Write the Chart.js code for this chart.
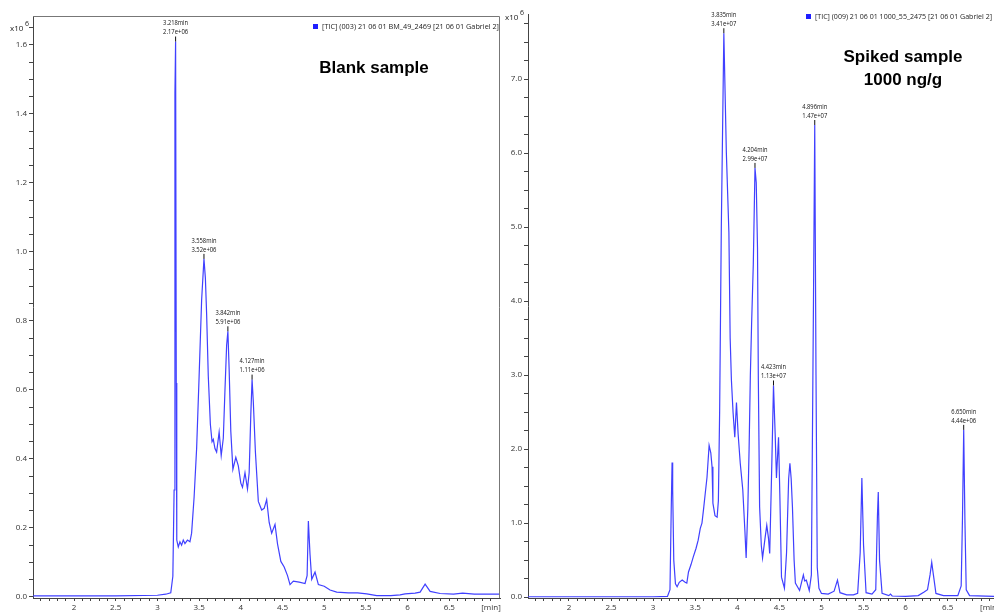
<!DOCTYPE html>
<html>
<head>
<meta charset="utf-8">
<script src="https://cdn.jsdelivr.net/npm/chart.js@4.4.0/dist/chart.umd.min.js"></script>
<style>
  html, body { margin: 0; padding: 0; background: #fff; }
  #wrap { position: relative; width: 994px; height: 615px; overflow: hidden; }
  canvas { position: absolute; top: 0; }
  #blank { left: 0; }
  #spiked { left: 503px; }
</style>
</head>
<body>
<div id="wrap">
  <canvas id="blank" width="503" height="615"></canvas>
  <canvas id="spiked" width="491" height="615"></canvas>
</div>
<script>
// retention time (min) and TIC signal
const blankTime = [1.51, 2.0, 2.5, 3.0, 3.1, 3.16, 3.185, 3.2, 3.21, 3.218, 3.226, 3.232, 3.25, 3.27, 3.29, 3.31, 3.33, 3.36, 3.39,
  3.41, 3.44, 3.47, 3.5, 3.53, 3.558, 3.575, 3.59, 3.61, 3.635, 3.655, 3.67, 3.69, 3.71, 3.74, 3.765, 3.79, 3.81, 3.83, 3.845,
  3.86, 3.88, 3.905, 3.94, 3.97, 4.0, 4.02, 4.05, 4.08, 4.1, 4.12, 4.135, 4.15, 4.175, 4.21, 4.25, 4.28, 4.31, 4.34, 4.37, 4.41,
  4.44, 4.48, 4.52, 4.56, 4.59, 4.63, 4.7, 4.77, 4.795, 4.81, 4.83, 4.85, 4.89, 4.93, 5.0, 5.07, 5.15, 5.29, 5.4, 5.51, 5.63,
  5.8, 5.91, 5.97, 6.09, 6.15, 6.21, 6.27, 6.39, 6.55, 6.66, 6.8, 7.11];
const blankSignal = [0.003, 0.003, 0.003, 0.005, 0.008, 0.012, 0.06, 0.31, 1.46, 1.61, 0.62, 0.165, 0.145, 0.16, 0.15, 0.165, 0.155, 0.165, 0.16,
  0.185, 0.29, 0.43, 0.64, 0.86, 0.98, 0.925, 0.82, 0.64, 0.5, 0.45, 0.457, 0.43, 0.42, 0.478, 0.41, 0.46, 0.6, 0.73, 0.77,
  0.66, 0.48, 0.37, 0.405, 0.38, 0.33, 0.318, 0.36, 0.313, 0.36, 0.53, 0.63, 0.565, 0.42, 0.277, 0.252, 0.257, 0.282, 0.216, 0.185, 0.21,
  0.154, 0.103, 0.087, 0.062, 0.036, 0.046, 0.043, 0.039, 0.062, 0.22, 0.123, 0.051, 0.072, 0.036, 0.031, 0.02, 0.014, 0.012, 0.012, 0.009, 0.004,
  0.004, 0.006, 0.009, 0.011, 0.014, 0.037, 0.016, 0.01, 0.008, 0.011, 0.008, 0.008];

const spikedTime = [1.51, 2.5, 3.0, 3.17, 3.2, 3.215, 3.225, 3.232, 3.245, 3.265, 3.285, 3.31, 3.345, 3.38, 3.4, 3.42, 3.45, 3.476,
  3.51, 3.535, 3.56, 3.58, 3.6, 3.617, 3.64, 3.665, 3.685, 3.7, 3.71, 3.735, 3.76, 3.775, 3.79, 3.81, 3.84, 3.87, 3.9, 3.915, 3.93,
  3.95, 3.97, 3.99, 4.01, 4.035, 4.065, 4.09, 4.105, 4.125, 4.14, 4.155, 4.17, 4.19, 4.21, 4.225, 4.24, 4.25, 4.265, 4.285, 4.3,
  4.33, 4.35, 4.37, 4.385, 4.41, 4.43, 4.45, 4.465, 4.49, 4.505, 4.525, 4.56, 4.585, 4.61, 4.625, 4.64, 4.655, 4.675, 4.69, 4.74,
  4.785, 4.8, 4.82, 4.855, 4.88, 4.905, 4.92, 4.935, 4.95, 4.97, 5.0, 5.08, 5.15, 5.19, 5.22, 5.3, 5.38, 5.43, 5.46, 5.48, 5.5,
  5.53, 5.6, 5.645, 5.665, 5.675, 5.69, 5.72, 5.8, 5.82, 5.84, 6.0, 6.15, 6.22, 6.26, 6.29, 6.31, 6.33, 6.36, 6.45, 6.62, 6.66,
  6.675, 6.69, 6.705, 6.72, 6.76, 7.05];
const spikedSignal = [0.005, 0.005, 0.005, 0.01, 0.1, 1.2, 1.82, 1.45, 0.5, 0.18, 0.14, 0.2, 0.23, 0.2, 0.19, 0.34, 0.44, 0.54,
  0.66, 0.77, 0.93, 1.0, 1.2, 1.38, 1.62, 2.05, 1.95, 1.76, 1.27, 1.1, 1.08, 1.3, 2.5, 5.0, 7.62, 6.0, 4.93, 3.5, 2.93,
  2.49, 2.16, 2.63, 2.2, 1.81, 1.45, 0.9, 0.53, 1.2, 2.0, 3.0, 3.7, 4.5, 5.8, 5.6, 4.72, 2.93, 1.22, 0.7, 0.53,
  0.8, 0.97, 0.8, 0.59, 1.8, 2.86, 2.2, 1.61, 2.16, 1.4, 0.27, 0.12, 0.6, 1.6, 1.81, 1.6, 1.22, 0.5, 0.19, 0.09,
  0.3, 0.22, 0.23, 0.09, 0.3, 4.0, 6.38, 3.0, 0.4, 0.12, 0.05, 0.04, 0.08, 0.23, 0.06, 0.03, 0.03, 0.05, 0.6, 1.61, 0.7,
  0.06, 0.04, 0.1, 1.1, 1.42, 0.5, 0.05, 0.02, 0.04, 0.015, 0.01, 0.02, 0.07, 0.1, 0.3, 0.47, 0.3, 0.05, 0.02, 0.02, 0.15,
  1.04, 2.26, 1.0, 0.1, 0.02, 0.01];

// peak annotations
const blankPeakTime = [3.218, 3.558, 3.845, 4.135];
const blankPeakSignal = [1.61, 0.98, 0.77, 0.63];
const blankPeakText = [['3.218min', '2.17e+06'], ['3.558min', '3.52e+06'], ['3.842min', '5.91e+06'], ['4.127min', '1.11e+06']];
const spikedPeakTime = [3.84, 4.21, 4.43, 4.92, 6.69];
const spikedPeakSignal = [7.62, 5.8, 2.86, 6.38, 2.26];
const spikedPeakText = [['3.835min', '3.41e+07'], ['4.204min', '2.99e+07'], ['4.423min', '1.13e+07'], ['4.896min', '1.47e+07'], ['6.650min', '4.44e+06']];

const xMajor = [2, 2.5, 3, 3.5, 4, 4.5, 5, 5.5, 6, 6.5, 7];
const blankYMajor = [0, 0.2, 0.4, 0.6, 0.8, 1.0, 1.2, 1.4, 1.6];
const spikedYMajor = [0, 1, 2, 3, 4, 5, 6, 7];

const lineColor = 'rgb(64,64,255)';
const axisColor = '#444';
const fontFam = '"Open Sans", "Liberation Sans", sans-serif';

function near(list, v) {
  return list.some(m => Math.abs(m - v) < 1e-6);
}

function steps(from, to, step) {
  const out = [];
  for (let i = 0; from + i * step <= to + 1e-9; i++) out.push(+(from + i * step).toFixed(4));
  return out;
}

function makeChart(id, cfg) {
  const pts = cfg.time.map((t, i) => ({ x: t, y: cfg.signal[i] }));
  const annot = {
    id: 'annot',
    afterDraw(chart) {
      const ctx = chart.ctx;
      const xs = chart.scales.x, ys = chart.scales.y;
      const a = chart.chartArea;
      ctx.save();
      // frame
      if (cfg.frame) {
        ctx.strokeStyle = '#777';
        ctx.lineWidth = 1;
        ctx.beginPath();
        ctx.moveTo(a.left, a.top + 0.5);
        ctx.lineTo(a.right - 0.5, a.top + 0.5);
        ctx.lineTo(a.right - 0.5, a.bottom);
        ctx.stroke();
      }
      // peak labels
      ctx.fillStyle = '#111';
      ctx.strokeStyle = '#111';
      ctx.font = '6.5px ' + fontFam;
      ctx.textAlign = 'center';
      ctx.textBaseline = 'middle';
      cfg.peakTime.forEach((t, i) => {
        const px = xs.getPixelForValue(t);
        const py = ys.getPixelForValue(cfg.peakSignal[i]);
        ctx.beginPath();
        ctx.moveTo(px, py);
        ctx.lineTo(px, py - 5);
        ctx.stroke();
        ctx.fillText(cfg.peakText[i][0], px, py - 18, 25);
        ctx.fillText(cfg.peakText[i][1], px, py - 9, 25);
      });
      // exponent
      ctx.fillStyle = '#222';
      ctx.textAlign = 'left';
      ctx.font = '8px ' + fontFam;
      ctx.fillText('x10', cfg.expPos[0], cfg.expPos[1]);
      ctx.font = '7px ' + fontFam;
      ctx.fillText('6', cfg.expPos[0] + 15, cfg.expPos[1] - 5);
      // legend
      ctx.fillStyle = 'rgb(30,30,255)';
      ctx.fillRect(cfg.legendPos[0], cfg.legendPos[1] - 3, 5, 5);
      ctx.fillStyle = '#222';
      ctx.font = '8px ' + fontFam;
      ctx.fillText(cfg.legend, cfg.legendPos[0] + 9, cfg.legendPos[1], 177);
      // title text
      ctx.font = 'bold 17px "Liberation Sans", Arial, sans-serif';
      ctx.fillStyle = '#000';
      ctx.textAlign = 'center';
      cfg.title.forEach((line, i) => ctx.fillText(line, cfg.titlePos[0], cfg.titlePos[1] + i * 23));
      ctx.restore();
    }
  };

  return new Chart(document.getElementById(id).getContext('2d'), {
    type: 'line',
    data: {
      datasets: [{
        data: pts,
        borderColor: lineColor,
        borderWidth: 1.2,
        pointRadius: 0,
        tension: 0,
        fill: false
      }]
    },
    options: {
      responsive: false,
      animation: false,
      events: [],
      layout: { padding: cfg.padding },
      plugins: { legend: { display: false }, tooltip: { enabled: false } },
      scales: {
        x: {
          type: 'linear',
          min: cfg.xMin,
          max: cfg.xMax,
          border: { color: axisColor, width: 1 },
          grid: { drawOnChartArea: false, drawTicks: true, tickLength: 3, color: axisColor },
          ticks: {
            autoSkip: false,
            maxRotation: 0,
            padding: 2,
            color: '#333',
            font: { size: 8, family: fontFam },
            callback: v => near(xMajor, v) ? (Math.abs(v - 7) < 1e-6 ? '[min]' : String(v)) : ''
          },
          afterBuildTicks: s => { s.ticks = steps(1.6, 7.0, 0.1).map(v => ({ value: v })); },
          afterFit: s => { s.height = 17; s.paddingLeft = 0; s.paddingRight = 0; }
        },
        y: {
          type: 'linear',
          min: cfg.yMin,
          max: cfg.yMax,
          border: { color: axisColor, width: 1 },
          grid: { drawOnChartArea: false, drawTicks: true, tickLength: 4, color: axisColor },
          ticks: {
            autoSkip: false,
            padding: 2,
            color: '#333',
            font: { size: 8, family: fontFam },
            callback: v => near(cfg.yMajor, v) ? v.toFixed(1) : ''
          },
          afterBuildTicks: s => { s.ticks = steps(0, cfg.yTop, cfg.yMinor).map(v => ({ value: v })); },
          afterFit: s => { s.width = cfg.yWidth; s.paddingTop = 0; s.paddingBottom = 0; }
        }
      }
    },
    plugins: [annot]
  });
}

makeChart('blank', {
  time: blankTime, signal: blankSignal,
  peakTime: blankPeakTime, peakSignal: blankPeakSignal, peakText: blankPeakText,
  xMin: 1.508, xMax: 7.108, yMin: -0.003, yMax: 1.684,
  yMajor: blankYMajor, yTop: 1.65, yMinor: 0.05, yWidth: 33,
  padding: { top: 16, right: 3, left: 0, bottom: 0 },
  frame: true,
  expPos: [10, 29],
  legend: '[TIC] (003) 21 06 01 BM_49_2469 [21 06 01 Gabriel 2]',
  legendPos: [313, 27],
  title: ['Blank sample'],
  titlePos: [374, 68]
});

makeChart('spiked', {
  time: spikedTime, signal: spikedSignal,
  peakTime: spikedPeakTime, peakSignal: spikedPeakSignal, peakText: spikedPeakText,
  xMin: 1.513, xMax: 7.05, yMin: -0.012, yMax: 7.88,
  yMajor: spikedYMajor, yTop: 7.75, yMinor: 0.25, yWidth: 25,
  padding: { top: 14, right: 0, left: 0, bottom: 0 },
  frame: false,
  expPos: [2, 18],
  legend: '[TIC] (009) 21 06 01 1000_55_2475 [21 06 01 Gabriel 2]',
  legendPos: [303, 17],
  title: ['Spiked sample', '1000 ng/g'],
  titlePos: [400, 57]
});
</script>
</body>
</html>
